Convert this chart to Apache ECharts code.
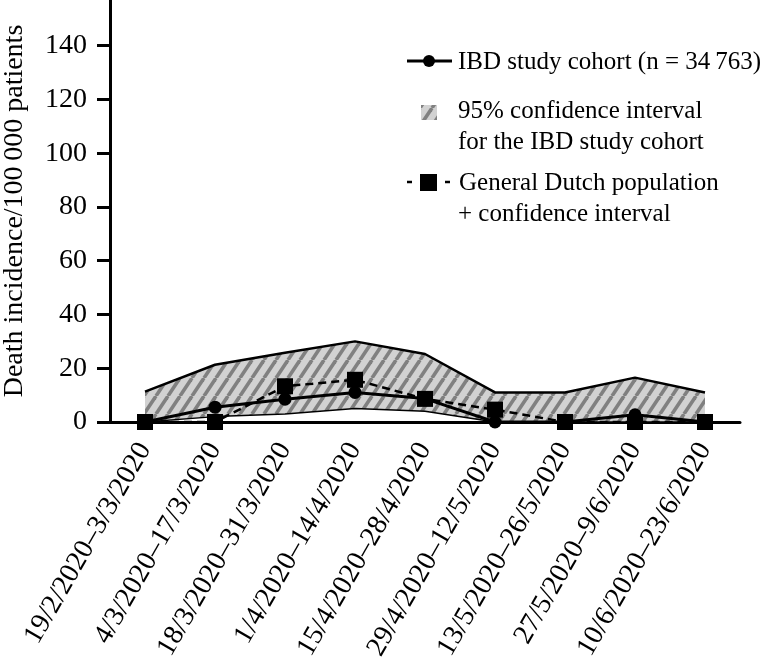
<!DOCTYPE html>
<html>
<head>
<meta charset="utf-8">
<script src="https://cdn.jsdelivr.net/npm/echarts@6/dist/echarts.min.js"></script>
<style>
html,body{margin:0;padding:0;background:#fff;}
#chart{width:761px;height:672px;}
</style>
</head>
<body>
<div id="chart"></div>
<script>
var categories = ['19/2/2020\u20133/3/2020','4/3/2020\u201317/3/2020','18/3/2020\u201331/3/2020','1/4/2020\u201314/4/2020','15/4/2020\u201328/4/2020','29/4/2020\u201312/5/2020','13/5/2020\u201326/5/2020','27/5/2020\u20139/6/2020','10/6/2020\u201323/6/2020'];
var ibdCohort = [0, 5.5, 8.5, 11, 8.7, 0, 0, 2.7, 0];
var ciLower = [0, 2, 3, 5, 4, 0, 0, 0, 0];
var ciUpper = [11.3, 21.3, 25.8, 30, 25.3, 11, 11, 16.5, 11];
var dutchPopulation = [0, 0, 13.3, 15.7, 8.6, 4.6, 0, 0, 0];
var yTicks = [0, 20, 40, 60, 80, 100, 120, 140];

var FONT = '"Liberation Serif", "DejaVu Serif", serif';

function makePattern(){
  var w = 12, h = 18;
  var c = document.createElement('canvas');
  c.width = w; c.height = h;
  var ctx = c.getContext('2d');
  ctx.fillStyle = '#d2d2d2';
  ctx.fillRect(0,0,w,h);
  ctx.strokeStyle = '#808080';
  ctx.lineWidth = 3.6;
  for (var k=-1;k<=1;k++){
    ctx.beginPath();
    ctx.moveTo(k*w, h);
    ctx.lineTo((k+1)*w, 0);
    ctx.stroke();
  }
  return c;
}
var pat = makePattern();
var bandDiff = ciUpper.map(function(v,i){return v - ciLower[i];});

var chart = echarts.init(document.getElementById('chart'), null, {renderer:'canvas'});
var option = {
  backgroundColor: '#fff',
  animation: false,
  grid: {left:110, right:21, top:0, bottom:250, containLabel:false, outerBoundsMode:'none'},
  xAxis: {
    type:'category',
    data: categories,
    boundaryGap: true,
    axisLine: {lineStyle:{color:'#000', width:3}},
    axisTick: {alignWithLabel:true, length:14, lineStyle:{color:'#000', width:3}},
    axisLabel: {interval:0, rotate:60, margin:23, color:'#000', fontFamily:FONT, fontSize:28}
  },
  yAxis: {
    type:'value',
    min:0, max:157,
    name:'Death incidence/100\u2009000 patients',
    nameLocation:'middle',
    nameRotate:90,
    nameGap:81,
    nameTextStyle:{color:'#000', fontFamily:FONT, fontSize:28},
    splitLine:{show:false},
    axisLine:{show:true, lineStyle:{color:'#000', width:3}},
    axisTick:{show:true, length:13, customValues:yTicks, lineStyle:{color:'#000', width:3}},
    axisLabel:{customValues:yTicks, margin:23, color:'#000', fontFamily:FONT, fontSize:28}
  },
  series: [
    {
      name:'ciLower', type:'line', stack:'ci', data:ciLower,
      symbol:'none', lineStyle:{color:'#000', width:1.5}, z:2
    },
    {
      name:'ciBand', type:'line', stack:'ci', data:bandDiff,
      symbol:'none', lineStyle:{color:'#000', width:2.5},
      areaStyle:{color:{image:pat, repeat:'repeat'}, opacity:1}, z:2
    },
    {
      name:'IBD study cohort', type:'line', data:ibdCohort,
      symbol:'circle', symbolSize:13,
      itemStyle:{color:'#000'}, lineStyle:{color:'#000', width:3}, z:3
    },
    {
      name:'General Dutch population', type:'line', data:dutchPopulation,
      symbol:'rect', symbolSize:16,
      itemStyle:{color:'#000'}, lineStyle:{color:'#000', width:2.5, type:[8,5]}, z:4
    }
  ],
  graphic: [
    {type:'line', shape:{x1:407,y1:61,x2:452,y2:61}, style:{stroke:'#000', lineWidth:3}},
    {type:'circle', shape:{cx:429, cy:61, r:6}, style:{fill:'#000'}},
    {type:'text', left:458, top:50, style:{text:'IBD study cohort (n = 34\u2009763)', font:'25px '+FONT, fill:'#000'}},
    {type:'rect', shape:{x:421, y:105, width:16, height:15}, style:{fill:{image:pat, repeat:'repeat'}}},
    {type:'text', left:458, top:99, style:{text:'95% confidence interval', font:'25px '+FONT, fill:'#000'}},
    {type:'text', left:458, top:130, style:{text:'for the IBD study cohort', font:'25px '+FONT, fill:'#000'}},
    {type:'line', shape:{x1:407,y1:182,x2:412,y2:182}, style:{stroke:'#000', lineWidth:2.5}},
    {type:'rect', shape:{x:420, y:174, width:17, height:17}, style:{fill:'#000'}},
    {type:'line', shape:{x1:445,y1:182,x2:450,y2:182}, style:{stroke:'#000', lineWidth:2.5}},
    {type:'text', left:459, top:171, style:{text:'General Dutch population', font:'25px '+FONT, fill:'#000'}},
    {type:'text', left:458, top:202, style:{text:'+ confidence interval', font:'25px '+FONT, fill:'#000'}}
  ]
};
chart.setOption(option);
</script>
</body>
</html>
